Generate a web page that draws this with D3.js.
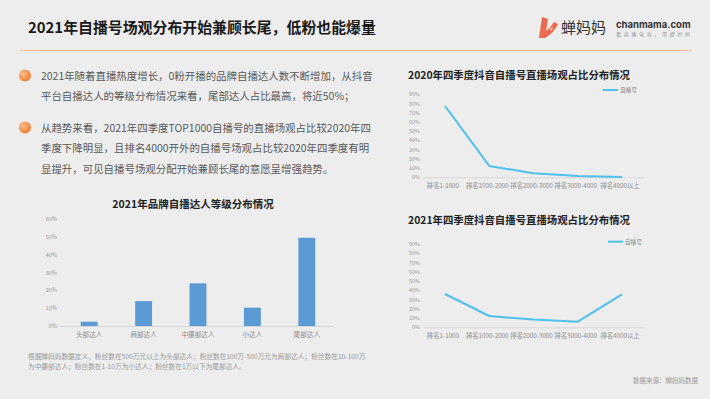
<!DOCTYPE html>
<html>
<head>
<meta charset="utf-8">
<script src="https://cdn.jsdelivr.net/npm/d3@7"></script>
<style>
  body { margin: 0; background: #ededed; }
  svg { display: block; font-family: "Noto Sans CJK SC", "Noto Sans", sans-serif; }
</style>
</head>
<body>
<div id="chart"></div>
<script>
// Data
const barCats = ["头部达人", "肩部达人", "中腰部达人", "小达人", "尾部达人"];
const barVals = [2.4, 14, 24, 10.3, 49.6];
const barTicks = [0, 10, 20, 30, 40, 50, 60];

const lineCats = ["排名1-1000", "排名1000-2000", "排名2000-3000", "排名3000-4000", "排名4000以上"];
const vals2020 = [77.3, 12.3, 4.3, 1.4, 0.4];
const vals2021 = [36, 12.2, 8.3, 6.1, 35.6];
const lineTicks = [0, 10, 20, 30, 40, 50, 60, 70, 80, 90];

const bullets = [
    ["2021年随着直播热度增长，0粉开播的品牌自播达人数不断增加，从抖音",
     "平台自播达人的等级分布情况来看，尾部达人占比最高，将近50%；"],
    ["从趋势来看，2021年四季度TOP1000自播号的直播场观占比较2020年四",
     "季度下降明显，且排名4000开外的自播号场观占比较2020年四季度有明",
     "显提升，可见自播号场观分配开始兼顾长尾的意愿呈增强趋势。"]
];
const footnote = [
    "根据蝉妈妈数据定义，粉丝数在500万元以上为头部达人；粉丝数在100万-500万元为肩部达人；粉丝数在10-100万",
    "为中腰部达人；粉丝数在1-10万为小达人；粉丝数在1万以下为尾部达人。"
];

const W = 710, H = 399;
const svg = d3.select("#chart").append("svg")
    .attr("width", W)
    .attr("height", H);

svg.append("rect").attr("width", W).attr("height", H).attr("fill", "#ededed");

// gradient for bullets
const defs = svg.append("defs");
const grad = defs.append("radialGradient").attr("id", "dot")
    .attr("cx", "35%").attr("cy", "35%").attr("r", "70%");
grad.append("stop").attr("offset", "0%").attr("stop-color", "#fbc08f");
grad.append("stop").attr("offset", "100%").attr("stop-color", "#ee7a2c");

// Header
svg.append("text")
    .attr("x", 28).attr("y", 33)
    .attr("font-size", 14.9).attr("font-weight", "bold").attr("fill", "#1a1a1a")
    .text("2021年自播号场观分布开始兼顾长尾，低粉也能爆量");

svg.append("line")
    .attr("x1", 20).attr("x2", 692).attr("y1", 50.5).attr("y2", 50.5)
    .attr("stroke", "#f2c9a6").attr("stroke-width", 1.5);

// Logo
const logo = svg.append("g");
logo.append("path")
    .attr("d", "M542,17 L548,19 L546,31 Q551,27 554,22 L558,24 Q554,33 545,38 L539,38 Z")
    .attr("fill", "#ec6a4f");
logo.append("path")
    .attr("d", "M549,29 L553,27 L552,31 Z")
    .attr("fill", "#f6c2a8");
logo.append("text")
    .attr("x", 561).attr("y", 33)
    .attr("font-size", 15).attr("fill", "#333")
    .text("蝉妈妈");
logo.append("text")
    .attr("x", 616).attr("y", 28)
    .attr("font-size", 9.5).attr("font-weight", "bold").attr("fill", "#333")
    .attr("font-family", "Inter, sans-serif")
    .text("chanmama.com");
logo.append("text")
    .attr("x", 616).attr("y", 36)
    .attr("font-size", 5).attr("fill", "#999")
    .attr("textLength", 74)
    .text("看直播电商，用蝉妈妈");

// Bullets
let ly = [[80, 100], [132, 152, 173]];
bullets.forEach((lines, i) => {
    svg.append("circle")
        .attr("cx", 25).attr("cy", ly[i][0] - 4.5).attr("r", 6)
        .attr("fill", "url(#dot)");
    lines.forEach((t, j) => {
        svg.append("text")
            .attr("x", 41).attr("y", ly[i][j])
            .attr("font-size", 10.45).attr("fill", "#595959")
            .text(t);
    });
});

// Bar chart
const bx = d3.scaleBand().domain(barCats).range([62, 334]).paddingInner(0.69).paddingOuter(0.345);
const by = d3.scaleLinear().domain([0, 60]).range([326, 219.3]);
const bar = svg.append("g");

bar.append("text")
    .attr("x", 193).attr("y", 208)
    .attr("text-anchor", "middle")
    .attr("font-size", 10.5).attr("font-weight", "bold").attr("fill", "#222")
    .text("2021年品牌自播达人等级分布情况");

bar.selectAll("rect.bar")
    .data(barVals)
    .enter()
    .append("rect")
    .attr("class", "bar")
    .attr("x", (d, i) => bx(barCats[i]))
    .attr("width", bx.bandwidth())
    .attr("y", d => by(d))
    .attr("height", d => by(0) - by(d))
    .attr("fill", "#5b9bd5");

bar.append("line")
    .attr("x1", 60).attr("x2", 334).attr("y1", by(0) + 0.5).attr("y2", by(0) + 0.5)
    .attr("stroke", "#d6d6d6");

bar.selectAll("text.ytick")
    .data(barTicks)
    .enter()
    .append("text")
    .attr("class", "ytick")
    .attr("x", 57).attr("y", d => by(d) + 2)
    .attr("text-anchor", "end")
    .attr("font-size", 5.6).attr("fill", "#999")
    .text(d => d + "%");

bar.selectAll("text.xtick")
    .data(barCats)
    .enter()
    .append("text")
    .attr("class", "xtick")
    .attr("x", d => bx(d) + bx.bandwidth() / 2).attr("y", 337)
    .attr("text-anchor", "middle")
    .attr("font-size", 6.6).attr("fill", "#8c8c8c")
    .text(d => d);

// Line charts
function lineChart(top, title, vals, legendY, legendX) {
    const g = svg.append("g");
    const x = d3.scalePoint().domain(lineCats).range([445, 622]);
    const y = d3.scaleLinear().domain([0, 90]).range([top.zero, top.ninety]);

    g.append("text")
        .attr("x", 408).attr("y", top.title)
        .attr("font-size", 10.4).attr("font-weight", "bold").attr("fill", "#222")
        .text(title);

    g.append("line")
        .attr("x1", 423).attr("x2", 644).attr("y1", y(0) + 0.5).attr("y2", y(0) + 0.5)
        .attr("stroke", "#d6d6d6");

    g.selectAll("text.ytick")
        .data(lineTicks)
        .enter()
        .append("text")
        .attr("class", "ytick")
        .attr("x", 420).attr("y", d => y(d) + 2)
        .attr("text-anchor", "end")
        .attr("font-size", 5.4).attr("fill", "#999")
        .text(d => d + "%");

    g.selectAll("text.xtick")
        .data(lineCats)
        .enter()
        .append("text")
        .attr("class", "xtick")
        .attr("x", d => x(d) - 2).attr("y", top.xlab)
        .attr("text-anchor", "middle")
        .attr("font-size", 6.3).attr("fill", "#8c8c8c")
        .text(d => d);

    const line = d3.line()
        .x((d, i) => x(lineCats[i]))
        .y(d => y(d));

    g.append("path")
        .datum(vals)
        .attr("fill", "none")
        .attr("stroke", "#4fc1ef")
        .attr("stroke-width", 2)
        .attr("stroke-linejoin", "round")
        .attr("d", line);

    // legend
    g.append("line")
        .attr("x1", legendX).attr("x2", legendX + 15)
        .attr("y1", legendY).attr("y2", legendY)
        .attr("stroke", "#4fc1ef").attr("stroke-width", 2);
    g.append("text")
        .attr("x", legendX + 17).attr("y", legendY + 2)
        .attr("font-size", 5.6).attr("fill", "#888")
        .text("自播号");
}

lineChart({ title: 79, zero: 177.3, ninety: 94.3, xlab: 188 },
    "2020年四季度抖音自播号直播场观占比分布情况", vals2020, 90, 603);
lineChart({ title: 224, zero: 327.3, ninety: 244, xlab: 337.5 },
    "2021年四季度抖音自播号直播场观占比分布情况", vals2021, 241.7, 608);

// Footnotes
footnote.forEach((t, i) => {
    svg.append("text")
        .attr("x", 28).attr("y", 359 + i * 9.5)
        .attr("font-size", 6.7).attr("fill", "#9a9a9a")
        .text(t);
});
svg.append("text")
    .attr("x", 698).attr("y", 383)
    .attr("text-anchor", "end")
    .attr("font-size", 6.5).attr("fill", "#9a9a9a")
    .text("数据来源：蝉妈妈数据");
</script>
</body>
</html>
